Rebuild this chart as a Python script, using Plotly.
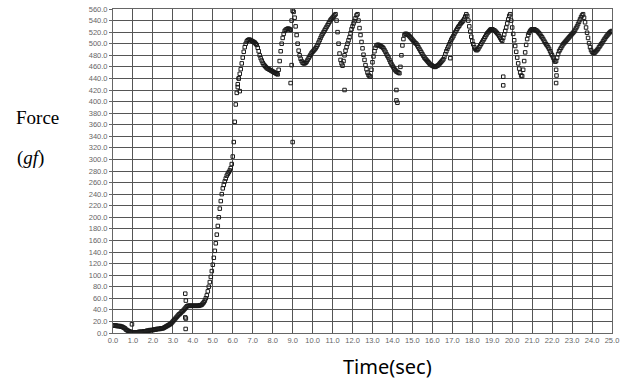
import plotly.graph_objects as go

SAMPLE_STEP = 0.05  # seconds between recorded samples

# Force (gf) recorded every 0.05 s, one row per second
force_gf = [
    13, 13, 13, 13, 12, 12, 12, 12, 11, 11, 10, 9, 8, 6, 5, 4, 3, 2, 2, 1,
    1, 1, 1, 1, 1, 1, 2, 2, 2, 2, 2, 3, 3, 3, 4, 4, 4, 5, 5, 5,
    5, 6, 6, 6, 7, 7, 7, 7, 8, 8, 8, 9, 10, 11, 12, 13, 14, 15, 16, 18,
    20, 22, 24, 26, 28, 30, 32, 33, 35, 37, 38, 40, 42, 44, 46, 47, 47, 47, 47, 47,
    47, 47, 47, 47, 47, 47, 47, 48, 48, 49, 51, 53, 56, 60, 65, 72, 80, 88, 97, 107,
    118, 130, 142, 155, 170, 185, 200, 215, 228, 240, 250, 256, 262, 267, 272, 275, 278, 281, 285, 292,
    305, 330, 365, 395, 415, 430, 440, 448, 456, 466, 476, 486, 494, 500, 504, 506, 507, 507, 506, 505,
    504, 503, 502, 500, 498, 493, 487, 480, 475, 471, 467, 464, 462, 460, 458, 457, 456, 455, 454, 453,
    452, 451, 450, 449, 448, 447, 455, 470, 487, 500, 510, 517, 522, 524, 525, 526, 526, 525, 524, 540,
    557, 555, 545, 530, 515, 500, 488, 480, 474, 470, 467, 466, 466, 467, 469, 472, 475, 478, 481, 484,
    486, 488, 490, 492, 495, 498, 502, 506, 510, 514, 517, 520, 523, 526, 529, 532, 535, 538, 541, 543,
    545, 547, 549, 551, 540, 520, 500, 483, 472, 466, 462, 470, 480, 488, 494, 500, 506, 511, 518, 525,
    530, 535, 539, 544, 549, 551, 540, 527, 515, 503, 492, 481, 472, 463, 456, 450, 446, 444, 443, 455,
    468, 478, 487, 493, 497, 498, 498, 497, 496, 495, 494, 492, 489, 486, 482, 479, 476, 472, 468, 465,
    462, 459, 456, 454, 452, 451, 450, 449, 460, 480, 497, 508, 515, 517, 517, 516, 515, 513, 511, 509,
    507, 505, 503, 501, 500, 497, 494, 491, 488, 485, 482, 479, 476, 474, 472, 470, 468, 466, 464, 463,
    462, 461, 460, 460, 461, 462, 463, 465, 467, 469, 471, 473, 477, 482, 487, 491, 495, 499, 503, 507,
    510, 513, 517, 520, 523, 526, 529, 531, 534, 536, 538, 540, 543, 547, 551, 548, 540, 530, 521, 512,
    505, 499, 494, 491, 489, 489, 491, 494, 497, 500, 503, 506, 509, 512, 515, 518, 520, 522, 524, 525,
    525, 524, 523, 522, 520, 518, 516, 513, 510, 507, 505, 510, 516, 522, 528, 535, 542, 548, 551, 540,
    528, 517, 506, 496, 486, 476, 466, 457, 450, 445, 444, 455, 470, 485, 498, 508, 515, 519, 522, 524,
    525, 525, 525, 524, 523, 522, 520, 518, 516, 513, 511, 508, 505, 502, 499, 497, 494, 491, 487, 483,
    480, 476, 472, 469, 470, 476, 482, 487, 490, 493, 496, 499, 501, 503, 505, 507, 509, 511, 513, 515,
    517, 519, 521, 524, 527, 530, 534, 538, 542, 546, 549, 551, 545, 537, 528, 519, 510, 501, 494, 489,
    486, 484, 484, 485, 487, 489, 491, 494, 496, 499, 501, 504, 507, 509, 512, 514, 516, 518, 520, 521,
    522,
]
time_sec = [round(i * SAMPLE_STEP, 2) for i in range(len(force_gf))]

# isolated stray samples
outlier_t = [0.95, 3.62, 3.65, 3.62, 3.65, 3.64, 6.25, 6.35, 6.3, 8.9, 8.95, 9.0,
             11.6, 14.2, 14.2, 14.25, 16.9, 19.55, 19.55, 22.2, 22.22, 22.2]
outlier_f = [15, 68, 56, 27, 25, 7, 425, 418, 440, 432, 463, 330,
             420, 420, 402, 398, 475, 443, 428, 455, 445, 432]

x_ticks = [float(v) for v in range(0, 26)]
y_ticks = [float(v) for v in range(0, 561, 20)]

fig = go.Figure()
marker = dict(symbol="square-open", size=3.5, color="#1a1a1a", line=dict(width=1, color="#1a1a1a"))
fig.add_trace(go.Scatter(x=time_sec, y=force_gf, mode="markers", marker=marker, showlegend=False))
fig.add_trace(go.Scatter(x=outlier_t, y=outlier_f, mode="markers", marker=marker, showlegend=False))

tickfont = dict(family="Liberation Sans, Arial, sans-serif", size=7.5, color="#666666")
fig.update_xaxes(range=[0, 25], tickvals=x_ticks, ticktext=[f"{v:.1f}" for v in x_ticks],
                 showgrid=True, gridcolor="#555555", gridwidth=1, zeroline=False,
                 showline=True, linecolor="#666666", mirror=True, ticks="", tickfont=tickfont)
fig.update_yaxes(range=[0, 560], tickvals=y_ticks, ticktext=[f"{v:.1f}" for v in y_ticks],
                 showgrid=True, gridcolor="#555555", gridwidth=1, zeroline=False,
                 showline=True, linecolor="#666666", mirror=True, ticks="outside", ticklen=3,
                 tickcolor="#666666", tickfont=tickfont)

serif = dict(family="Liberation Serif, Times New Roman, serif", size=19, color="black")
fig.update_layout(
    width=630, height=382,
    margin=dict(l=113, r=18, t=5, b=49),
    paper_bgcolor="white", plot_bgcolor="white",
    annotations=[
        dict(text="Force", xref="paper", yref="paper", x=-0.152, y=0.665, showarrow=False,
             xanchor="center", yanchor="middle", font=serif),
        dict(text="(<i>gf</i>)", xref="paper", yref="paper", x=-0.166, y=0.54, showarrow=False,
             xanchor="center", yanchor="middle", font=serif),
        dict(text="Time(sec)", xref="paper", yref="paper", x=0.551, y=-0.104, showarrow=False,
             xanchor="center", yanchor="middle",
             font=dict(family="Noto Sans, sans-serif", size=20, color="black")),
    ],
)

fig.write_html("out.html")
